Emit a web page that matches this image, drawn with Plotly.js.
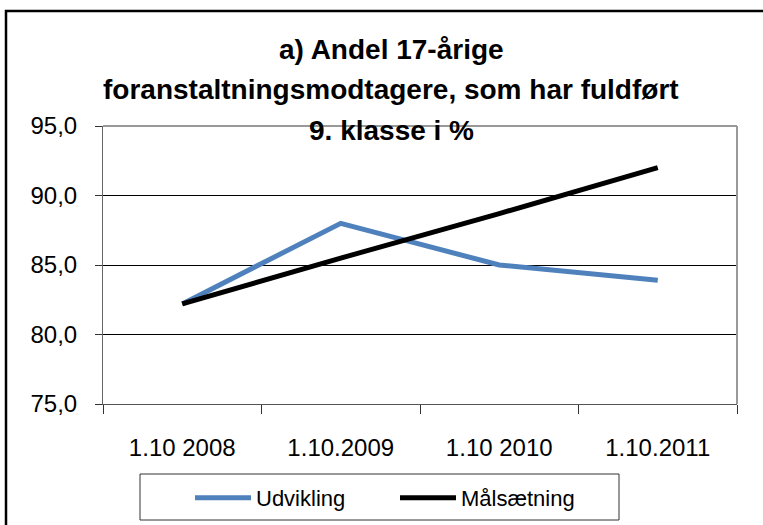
<!DOCTYPE html>
<html>
<head>
<meta charset="utf-8">
<script src="https://cdn.plot.ly/plotly-3.0.1.min.js"></script>
<style>html,body{margin:0;padding:0;background:#fff;overflow:hidden;}#chart{width:763px;height:525px;}</style>
</head>
<body>
<div id="chart"></div>
<script>
const categories = ["1.10 2008", "1.10.2009", "1.10 2010", "1.10.2011"];
const udvikling = [82.2, 88.0, 85.0, 83.9];
const maalsaetning = [82.2, 85.5, 88.7, 92.0];
const titleLines = ["a) Andel 17-årige", "foranstaltningsmodtagere, som har fuldført", "9. klasse i %"];
const yTicks = [75, 80, 85, 90, 95];

const FONT = "Liberation Sans, Arial, sans-serif";
const L = 103, R = 26, T = 126, B = 121;
const W = 763, H = 525;
const pw = W - L - R, ph = H - T - B;
const px = p => (p - L) / pw;
const py = p => (H - B - p) / ph;

const traces = [
  {x: categories, y: udvikling, type: "scatter", mode: "lines", name: "Udvikling",
   line: {color: "#4F81BD", width: 5}},
  {x: categories, y: maalsaetning, type: "scatter", mode: "lines", name: "Målsætning",
   line: {color: "#000000", width: 5}}
];

const annotations = titleLines.map((t, i) => ({
  text: "<b>" + t + "</b>", xref: "paper", yref: "paper",
  x: px(391), y: py(50 + i * 40), xanchor: "center", yanchor: "middle",
  showarrow: false, font: {family: FONT, size: 28, color: "#000"}
}));

const layout = {
  width: W, height: H,
  margin: {l: L, r: R, t: T, b: B, pad: 0, autoexpand: false},
  paper_bgcolor: "#fff", plot_bgcolor: "#fff",
  separators: ",.",
  showlegend: true,
  font: {family: FONT, size: 24, color: "#000"},
  xaxis: {
    type: "category", tickson: "boundaries", ticks: "outside", ticklen: 9, tickcolor: "#333",
    showline: true, linecolor: "#555", linewidth: 1, mirror: false, automargin: false,
    showgrid: false, tickfont: {family: FONT, size: 24}, ticklabelstandoff: 22,
    range: [-0.5, 3.5], fixedrange: true
  },
  yaxis: {
    range: [75, 95], tickvals: yTicks, tickformat: ".1f", ticks: "outside", ticklen: 7,
    tickcolor: "#333", showline: true, linecolor: "#666", linewidth: 1, automargin: false,
    showgrid: true, gridcolor: "#000", gridwidth: 1, zeroline: false,
    tickfont: {family: FONT, size: 24}, ticklabelstandoff: 13, fixedrange: true
  },
  legend: {
    orientation: "h", x: px(190), y: py(477), xanchor: "left", yanchor: "top",
    borderwidth: 0, bgcolor: "rgba(255,255,255,0)",
    font: {family: FONT, size: 22}, entrywidth: 134, itemwidth: 56
  },
  annotations: annotations,
  shapes: [
    {type: "line", xref: "paper", yref: "paper", x0: 0, x1: 1, y0: 1, y1: 1, line: {color: "#999", width: 2}},
    {type: "line", xref: "paper", yref: "paper", x0: 1, x1: 1, y0: 0, y1: 1, line: {color: "#999", width: 2}},
    {type: "rect", xref: "paper", yref: "paper", x0: px(140), x1: px(619), y0: py(520), y1: py(474),
     line: {color: "#333", width: 1}, fillcolor: "rgba(0,0,0,0)"},
    {type: "rect", xref: "paper", yref: "paper", x0: px(6), x1: px(800), y0: py(560), y1: py(11),
     line: {color: "#000", width: 2.5}, fillcolor: "rgba(0,0,0,0)", layer: "below"}
  ]
};

Plotly.newPlot("chart", traces, layout, {displayModeBar: false, staticPlot: true});
</script>
</body>
</html>
